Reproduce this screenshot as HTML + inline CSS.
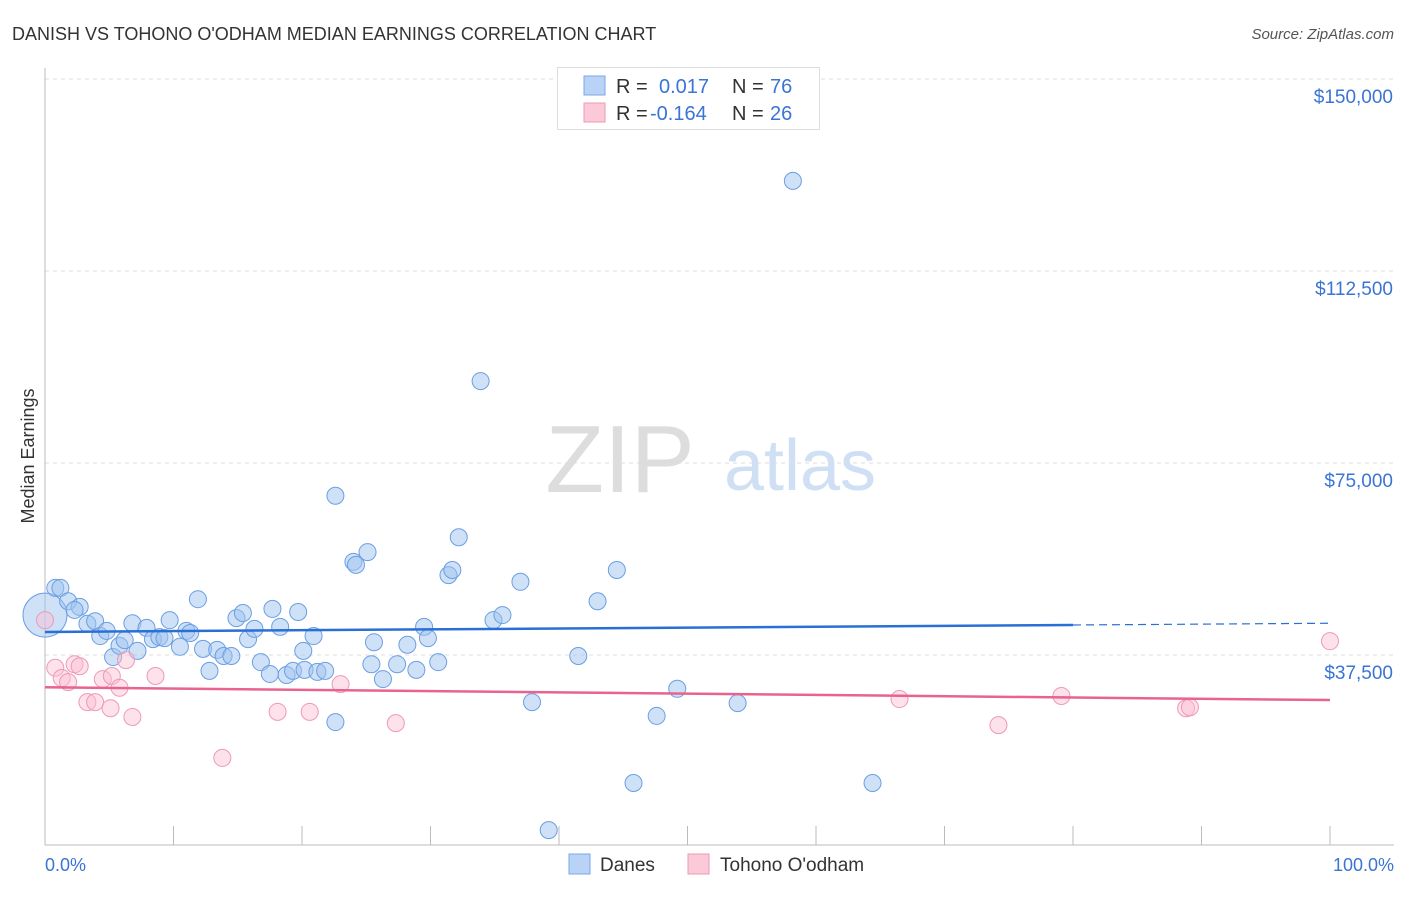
<!DOCTYPE html>
<html><head><meta charset="utf-8"><style>
body{margin:0;background:#fff;font-family:"Liberation Sans",sans-serif;}
svg text{font-family:"Liberation Sans",sans-serif;}
</style></head><body>
<svg width="1406" height="892">
<text x="12" y="40" font-size="18" fill="#333">DANISH VS TOHONO O'ODHAM MEDIAN EARNINGS CORRELATION CHART</text>
<text x="1394" y="39" font-size="15" fill="#555" font-style="italic" text-anchor="end">Source: ZipAtlas.com</text>
<text x="620" y="492" font-size="96" fill="#ddd" font-family="Liberation Serif" text-anchor="middle">ZIP</text>
<text x="800" y="490" font-size="72" fill="#cfe0f5" text-anchor="middle">atlas</text>
<text transform="translate(34,456) rotate(-90)" font-size="18" fill="#333" text-anchor="middle">Median Earnings</text>
<g id="grid"></g><g id="axes"></g><g id="pts"></g><g id="trend"></g>
<g>
<rect x="557.5" y="67.5" width="262" height="62" fill="#fff" stroke="#ddd"/>
<rect x="584" y="76" width="21" height="19" fill="#b8d3f5" stroke="#7aa7e6"/>
<rect x="584" y="103" width="21" height="19" fill="#fbc9d8" stroke="#ee9ab4"/>
<text x="616" y="93" font-size="20" fill="#333">R =</text><text x="659" y="93" font-size="20" fill="#3a74d4">0.017</text>
<text x="732" y="93" font-size="20" fill="#333">N =</text><text x="770" y="93" font-size="20" fill="#3a74d4">76</text>
<text x="616" y="120" font-size="20" fill="#333">R =</text><text x="650" y="120" font-size="20" fill="#3a74d4">-0.164</text>
<text x="732" y="120" font-size="20" fill="#333">N =</text><text x="770" y="120" font-size="20" fill="#3a74d4">26</text>
</g>
<g>
<rect x="569" y="854" width="21" height="20" fill="#b8d3f5" stroke="#7aa7e6"/>
<text x="600" y="871" font-size="19" fill="#333">Danes</text>
<rect x="688" y="854" width="21" height="20" fill="#fbc9d8" stroke="#ee9ab4"/>
<text x="720" y="871" font-size="19" fill="#333">Tohono O'odham</text>
</g>
<text x="45" y="871" font-size="18" fill="#3a74d4">0.0%</text>
<text x="1394" y="871" font-size="18" fill="#3a74d4" text-anchor="end">100.0%</text>
</svg>
<script>
const yTicks=[150000,112500,75000,37500];
const yTickLabels=["$150,000","$112,500","$75,000","$37,500"];
const daneX=[0,0.8,1.2,1.8,2.7,2.3,3.3,3.9,4.3,4.8,5.3,5.8,6.2,6.8,7.2,7.9,8.4,8.9,9.3,9.7,10.5,11.0,11.3,11.9,12.3,12.8,13.4,13.9,14.5,14.9,15.4,15.8,16.3,16.8,17.5,17.7,18.3,18.8,19.3,19.7,20.1,20.2,20.9,21.2,21.8,22.6,22.6,24.0,24.2,25.1,25.4,25.6,26.3,27.4,28.2,28.9,29.5,29.8,30.6,31.4,31.7,32.2,33.9,34.9,35.6,37.0,37.9,39.2,41.5,43.0,44.5,45.8,47.6,49.2,53.9,58.2,64.4];
const daneY=[45.3,50.6,50.6,48.0,46.9,46.3,43.6,44.1,41.2,42.2,37.1,39.3,40.4,43.7,38.3,42.8,40.6,41.0,40.8,44.3,39.1,42.2,41.8,48.4,38.7,34.4,38.5,37.3,37.3,44.7,45.7,40.6,42.6,36.1,33.8,46.5,43.0,33.6,34.4,45.9,38.3,34.6,41.2,34.2,34.4,68.6,24.4,55.7,55.1,57.6,35.7,40.0,32.8,35.7,39.5,34.6,43.0,40.8,36.1,53.1,54.1,60.5,91.0,44.3,45.3,51.8,28.3,3.3,37.3,48.0,54.1,12.5,25.6,30.9,28.1,130.1,12.5];
const tohX=[0,0.8,1.3,1.8,2.3,2.7,3.3,3.9,4.5,5.1,5.2,5.8,6.3,6.8,8.6,13.8,18.1,20.6,23.0,27.3,66.5,74.2,79.1,88.8,89.1,100];
const tohY=[44.3,35.0,33.0,32.2,35.7,35.3,28.3,28.3,32.8,27.1,33.4,31.1,36.5,25.4,33.4,17.4,26.4,26.4,31.8,24.2,28.9,23.8,29.5,27.1,27.3,40.2];
const daneTrend=[42.0,43.7];
const tohTrend=[31.2,28.7];
const NS="http://www.w3.org/2000/svg";
const sx=p=>45+p*12.85, sy=v=>847-v/37500*192, syk=k=>sy(k*1000);
function mk(tag,attrs,parent){const e=document.createElementNS(NS,tag);for(const k in attrs)e.setAttribute(k,attrs[k]);document.getElementById(parent).appendChild(e);return e;}
yTicks.forEach((t,i)=>{
 const l=mk('line',{x1:45,x2:1394,y1:sy(t),y2:sy(t),stroke:'#ddd','stroke-dasharray':'4,4'},'grid');
 
 
 const tx=mk('text',{x:1393,y:sy(t)+24,'font-size':19,fill:'#3a74d4','text-anchor':'end'},'grid');
 tx.textContent=yTickLabels[i];
 
 
});
const ax=mk('line',{x1:45,x2:45,y1:68,y2:845,stroke:'#bbb'},'axes');


const bx=mk('line',{x1:45,x2:1394,y1:845,y2:845,stroke:'#bbb'},'axes');


for(let i=1;i<=10;i++){const t=mk('line',{x1:sx(i*10),x2:sx(i*10),y1:826,y2:845,stroke:'#bbb'},'axes');
 
 }
daneX.forEach((x,i)=>{const c=mk('circle',{cx:sx(x),cy:syk(daneY[i]),r:i==0?22:8.5,fill:'rgba(160,196,240,0.5)',stroke:'#6a9fe3','stroke-width':1},'pts');
 
 });
tohX.forEach((x,i)=>{const c=mk('circle',{cx:sx(x),cy:syk(tohY[i]),r:8.5,fill:'rgba(250,190,210,0.45)',stroke:'#ee9ab4','stroke-width':1},'pts');
 
 });
const dv=p=>daneTrend[0]+(daneTrend[1]-daneTrend[0])*p/100;
const t1=mk('line',{x1:sx(0),x2:sx(80),y1:syk(dv(0)),y2:syk(dv(80)),stroke:'#2a6fd6','stroke-width':2.5},'trend');


const t2=mk('line',{x1:sx(80),x2:sx(100),y1:syk(dv(80)),y2:syk(dv(100)),stroke:'#2a6fd6','stroke-width':1.2,'stroke-dasharray':'8,5'},'trend');


const t3=mk('line',{x1:sx(0),x2:sx(100),y1:syk(tohTrend[0]),y2:syk(tohTrend[1]),stroke:'#e8638e','stroke-width':2.5},'trend');


</script>
</body></html>
